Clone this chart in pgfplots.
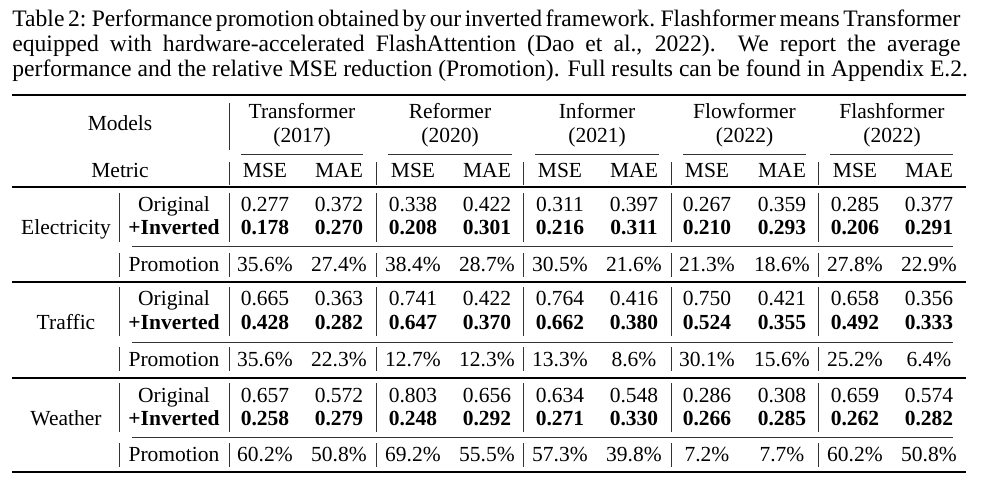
\documentclass[border=0pt]{standalone}
\usepackage{pgfplots}
\pgfplotsset{compat=1.18}
\usepackage{fontspec}
\setmainfont{Liberation Serif}

\newcommand{\capfont}{\fontsize{11.8}{14}\selectfont}
\newcommand{\tabfont}{\fontsize{10.75}{13}\selectfont}

\pgfplotsset{
  celltext/.style={draw=none, mark=none, nodes near coords,
    point meta=explicit symbolic,
    every node near coord/.append style={anchor=base, inner sep=0pt, text=black, font=\tabfont}},
  boldtext/.style={celltext,
    every node near coord/.append style={font=\tabfont\bfseries}},
}

\begin{document}
\begin{tikzpicture}
\useasboundingbox (0,0) rectangle (491pt,240.5pt);
\begin{axis}[at={(0,0)}, anchor=south west, scale only axis,
  width=491pt, height=240.5pt,
  xmin=0, xmax=982, ymin=0, ymax=481, y dir=reverse,
  hide axis, clip=false, unbounded coords=jump]

% caption
\node[anchor=base west, inner sep=0pt, font=\capfont] at (axis cs:12,27)
  {\spaceskip=0.22em plus 0.2em minus 0.1em\xspaceskip=0.3em plus 0.2em minus 0.1em
   \makebox[474pt][s]{Table 2: Performance promotion obtained by our inverted framework. Flashformer means Transformer}};
\node[anchor=base west, inner sep=0pt, font=\capfont] at (axis cs:12,52)
  {\makebox[474pt][s]{equipped with hardware-accelerated FlashAttention (Dao et al., 2022).\ \ We report the average}};
\node[anchor=base west, inner sep=0pt, font=\capfont] at (axis cs:12,77)
  {performance and the relative MSE reduction (Promotion). Full results can be found in Appendix E.2.};

% rules
\addplot[black, line width=1pt] coordinates {(12,95) (966,95) (nan,nan) (12,472) (966,472)};
\addplot[black, line width=0.6pt] coordinates {(12,187) (966,187) (nan,nan) (12,282) (966,282) (nan,nan) (12,378) (966,378)};
\addplot[black!80, line width=0.4pt] coordinates {
  (241,154) (363,154) (nan,nan) (388,154) (512,154) (nan,nan) (535,154) (659,154) (nan,nan)
  (683,154) (806,154) (nan,nan) (830,154) (953,154) (nan,nan)
  (132,246) (953,246) (nan,nan) (132,342) (953,342) (nan,nan) (132,437) (953,437)};
% vertical lines
\addplot[black!80, line width=0.48pt] coordinates {
  (229,103) (229,150) (nan,nan) (229,162) (229,185) (nan,nan)
  (376,162) (376,185) (nan,nan) (523,162) (523,185) (nan,nan)
  (671,162) (671,185) (nan,nan) (818,162) (818,185) (nan,nan)
  (119,193) (119,242) (nan,nan) (229,193) (229,242) (nan,nan) (376,193) (376,242) (nan,nan)
  (523,193) (523,242) (nan,nan) (671,193) (671,242) (nan,nan) (818,193) (818,242) (nan,nan)
  (119,253) (119,277) (nan,nan) (229,253) (229,277) (nan,nan) (376,253) (376,277) (nan,nan)
  (523,253) (523,277) (nan,nan) (671,253) (671,277) (nan,nan) (818,253) (818,277) (nan,nan)
  (119,287) (119,336) (nan,nan) (229,287) (229,336) (nan,nan) (376,287) (376,336) (nan,nan)
  (523,287) (523,336) (nan,nan) (671,287) (671,336) (nan,nan) (818,287) (818,336) (nan,nan)
  (119,347) (119,371) (nan,nan) (229,347) (229,371) (nan,nan) (376,347) (376,371) (nan,nan)
  (523,347) (523,371) (nan,nan) (671,347) (671,371) (nan,nan) (818,347) (818,371) (nan,nan)
  (119,383) (119,432) (nan,nan) (229,383) (229,432) (nan,nan) (376,383) (376,432) (nan,nan)
  (523,383) (523,432) (nan,nan) (671,383) (671,432) (nan,nan) (818,383) (818,432) (nan,nan)
  (119,443) (119,467) (nan,nan) (229,443) (229,467) (nan,nan) (376,443) (376,467) (nan,nan)
  (523,443) (523,467) (nan,nan) (671,443) (671,467) (nan,nan) (818,443) (818,467)};

% header
\addplot[celltext] table[meta=label] {
x y label
120 131 Models
302 119 Transformer
450 119 Reformer
597 119 Informer
744.5 119 Flowformer
892 119 Flashformer
302 143 (2017)
450 143 (2020)
597 143 (2021)
744.5 143 (2022)
892 143 (2022)
120 178 Metric
265 178 MSE
339 178 MAE
413 178 MSE
487 178 MAE
560 178 MSE
634 178 MAE
707 178 MSE
782 178 MAE
855 178 MSE
929 178 MAE
};

% row labels and original / promotion rows
\addplot[celltext] table[meta=label] {
x y label
66 235 Electricity
66 329 Traffic
66 425 Weather
174 212 Original
174 306 Original
174 402 Original
174 271 Promotion
174 366 Promotion
174 461 Promotion
265 212 0.277
339 212 0.372
413 212 0.338
487 212 0.422
560 212 0.311
634 212 0.397
707 212 0.267
782 212 0.359
855 212 0.285
929 212 0.377
265 271 35.6\%
339 271 27.4\%
413 271 38.4\%
487 271 28.7\%
560 271 30.5\%
634 271 21.6\%
707 271 21.3\%
782 271 18.6\%
855 271 27.8\%
929 271 22.9\%
265 306 0.665
339 306 0.363
413 306 0.741
487 306 0.422
560 306 0.764
634 306 0.416
707 306 0.750
782 306 0.421
855 306 0.658
929 306 0.356
265 366 35.6\%
339 366 22.3\%
413 366 12.7\%
487 366 12.3\%
560 366 13.3\%
634 366 8.6\%
707 366 30.1\%
782 366 15.6\%
855 366 25.2\%
929 366 6.4\%
265 402 0.657
339 402 0.572
413 402 0.803
487 402 0.656
560 402 0.634
634 402 0.548
707 402 0.286
782 402 0.308
855 402 0.659
929 402 0.574
265 461 60.2\%
339 461 50.8\%
413 461 69.2\%
487 461 55.5\%
560 461 57.3\%
634 461 39.8\%
707 461 7.2\%
782 461 7.7\%
855 461 60.2\%
929 461 50.8\%
};

% inverted rows (bold)
\addplot[boldtext] table[meta=label] {
x y label
174 235 +Inverted
174 329 +Inverted
174 425 +Inverted
265 235 0.178
339 235 0.270
413 235 0.208
487 235 0.301
560 235 0.216
634 235 0.311
707 235 0.210
782 235 0.293
855 235 0.206
929 235 0.291
265 329 0.428
339 329 0.282
413 329 0.647
487 329 0.370
560 329 0.662
634 329 0.380
707 329 0.524
782 329 0.355
855 329 0.492
929 329 0.333
265 425 0.258
339 425 0.279
413 425 0.248
487 425 0.292
560 425 0.271
634 425 0.330
707 425 0.266
782 425 0.285
855 425 0.262
929 425 0.282
};
\end{axis}
\end{tikzpicture}
\end{document}
